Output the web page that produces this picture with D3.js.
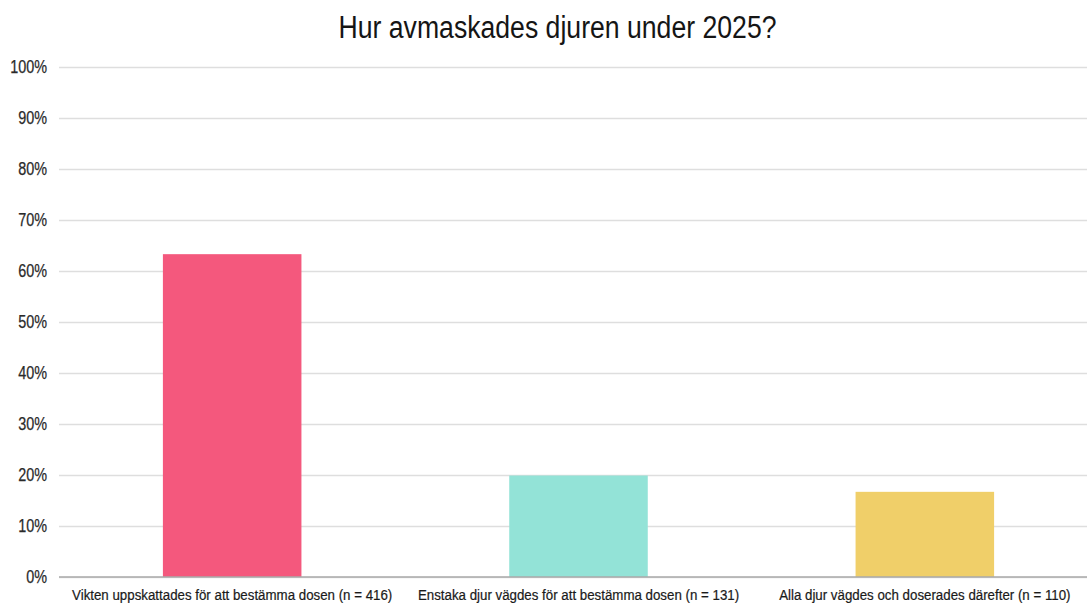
<!DOCTYPE html>
<html><head><meta charset="utf-8">
<script src="https://cdn.jsdelivr.net/npm/d3@7"></script>
<style>
html,body{margin:0;padding:0;background:#fff;}
svg{display:block;}
</style></head>
<body>
<svg id="chart" width="1087" height="603"></svg>
<script>
const title = "Hur avmaskades djuren under 2025?";
const categories = [
  "Vikten uppskattades för att bestämma dosen (n = 416)",
  "Enstaka djur vägdes för att bestämma dosen (n = 131)",
  "Alla djur vägdes och doserades därefter (n = 110)"
];
const values = [63.3, 19.9, 16.7];
const colors = ["#F4587D", "#93E3D7", "#F0CF69"];
const yTicks = [0, 10, 20, 30, 40, 50, 60, 70, 80, 90, 100];

(function () {
const W = 1087, H = 603;
const svg = d3.select("#chart");
const mLeft = 59, mRight = 1098, mTop = 67, mBottom = 577;

const x = d3.scaleBand().domain(categories).range([mLeft, mRight]).paddingInner(0.6).paddingOuter(0.3);
const y = d3.scaleLinear().domain([0, 100]).range([mBottom, mTop]);

function condense(sel, factor) {
  sel.each(function () {
    const len = this.getComputedTextLength();
    d3.select(this).attr("textLength", len * factor).attr("lengthAdjust", "spacingAndGlyphs");
  });
}

const t = svg.append("text")
  .attr("x", 557.5).attr("y", 38)
  .attr("text-anchor", "middle")
  .attr("font-family", "Liberation Sans, Arial, sans-serif")
  .attr("font-size", 31)
  .attr("fill", "#151515")
  .text(title);
t.attr("textLength", 438).attr("lengthAdjust", "spacingAndGlyphs");

const yAxis = d3.axisLeft(y).tickValues(yTicks).tickFormat(d => d + "%").tickSize(-(W - mLeft)).tickPadding(12);
const gy = svg.append("g").attr("transform", `translate(${mLeft},0)`).call(yAxis);
gy.select(".domain").remove();
gy.selectAll(".tick line").attr("stroke", "#dedede").attr("stroke-width", 1.5);
const yt = gy.selectAll(".tick text")
  .attr("font-family", "Liberation Sans, Arial, sans-serif")
  .attr("font-size", 18)
  .attr("fill", "#2a2a2a")
  .attr("stroke", "#2a2a2a").attr("stroke-width", 0.25)
  .attr("x", -12);
condense(yt, 0.8);

svg.append("g").selectAll("rect").data(values).join("rect")
  .attr("x", (d, i) => x(categories[i]))
  .attr("width", x.bandwidth())
  .attr("y", d => y(d))
  .attr("height", d => y(0) - y(d))
  .attr("fill", (d, i) => colors[i]);

const xAxis = d3.axisBottom(x).tickSize(0).tickPadding(13);
const gx = svg.append("g").attr("transform", `translate(0,${mBottom})`).call(xAxis);
gx.select(".domain").attr("stroke", "#aaa").attr("stroke-width", 1.5)
  .attr("d", `M${mLeft},0H${W}`);
const xt = gx.selectAll(".tick text")
  .attr("font-family", "Liberation Sans, Arial, sans-serif")
  .attr("font-size", 14)
  .attr("fill", "#1a1a1a")
  .attr("stroke", "#1a1a1a").attr("stroke-width", 0.2);
condense(xt, 0.95);
})();
</script>
</body></html>
